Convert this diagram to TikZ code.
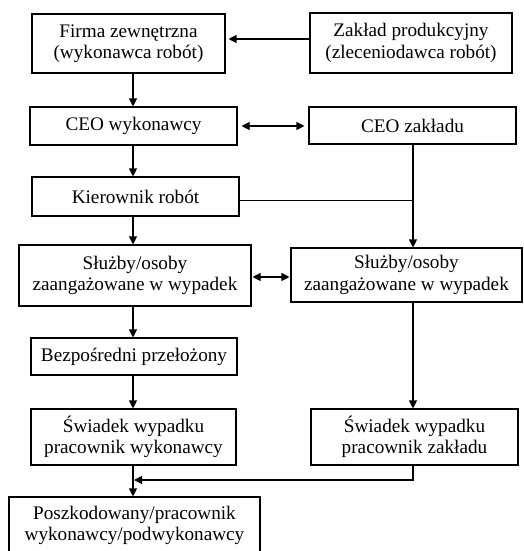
\documentclass[tikz,border=0pt]{standalone}
\usepackage{fontspec}
\setmainfont{Liberation Serif}
\usetikzlibrary{arrows.meta}
\begin{document}
\begin{tikzpicture}[x=1pt,y=-1pt,
  box/.style={draw, line width=1.1pt, inner sep=0pt, align=center,
    font=\fontsize{19.2}{21.5}\selectfont, text=black},
  arr/.style={line width=1.1pt, -{Triangle[length=8pt,width=8pt]}},
  darr/.style={line width=1.1pt, {Triangle[length=8pt,width=8pt]}-{Triangle[length=8pt,width=8pt]}},
  ln/.style={line width=1.2pt}]
\useasboundingbox (0,0) rectangle (523,551);
\clip (0,0) rectangle (523,551);
\coordinate (colL) at (133,0);
\coordinate (colR) at (413,0);
\coordinate (rowA) at (0,39);
\coordinate (rowB) at (0,200.5);
\coordinate (rowC) at (0,480);
\node[box, minimum width=193pt, minimum height=59pt] (firma) at (128.5,43.5) {Firma zewnętrzna\\(wykonawca robót)};
\node[box, minimum width=202pt, minimum height=60pt] (zaklad) at (411,43) {Zakład produkcyjny\\(zleceniodawca robót)};
\node[box, minimum width=207pt, minimum height=38pt] (ceow) at (133.5,126) {CEO wykonawcy};
\node[box, minimum width=207pt, minimum height=37pt] (ceoz) at (412.5,125.5) {CEO zakładu};
\node[box, minimum width=207pt, minimum height=39pt] (kier) at (135.5,196.5) {Kierownik robót};
\node[box, minimum width=232pt, minimum height=61pt] (slL) at (135,275.5) {Służby/osoby\\zaangażowane w wypadek};
\node[box, minimum width=231pt, minimum height=54pt] (slR) at (406.5,275) {Służby/osoby\\zaangażowane w wypadek};
\node[box, minimum width=206pt, minimum height=37pt] (bezp) at (134,356.5) {Bezpośredni przełożony};
\node[box, minimum width=205pt, minimum height=56pt] (swL) at (133.5,437) {Świadek wypadku\\pracownik wykonawcy};
\node[box, minimum width=207pt, minimum height=56pt] (swR) at (414.5,437) {Świadek wypadku\\pracownik zakładu};
\node[box, minimum width=251pt, minimum height=57pt] (posz) at (134.5,525.5) {Poszkodowany/pracownik\\wykonawcy/podwykonawcy};
% connectors
\draw[arr] (zaklad.west |- rowA) -- ([xshift=3pt]firma.east |- rowA);
\draw[arr] (firma.south -| colL) -- (ceow.north -| colL);
\draw[darr, shorten <=4pt, shorten >=4pt] (ceow.east) -- (ceoz.west |- ceow.east);
\draw[arr] (ceow.south -| colL) -- (kier.north -| colL);
\draw[arr] (ceoz.south -| colR) -- (slR.north -| colR);
\draw[ln] (kier.east |- rowB) -- (colR |- rowB);
\draw[arr] (kier.south -| colL) -- (slL.north -| colL);
\draw[darr, shorten <=1pt, shorten >=1pt] ([yshift=-1.5pt]slL.east) -- ([yshift=-1.5pt]slL.east -| slR.west);
\draw[arr] (slL.south -| colL) -- (bezp.north -| colL);
\draw[arr] (bezp.south -| colL) -- (swL.north -| colL);
\draw[arr] (slR.south -| colR) -- (swR.north -| colR);
\draw[arr] (swL.south -| colL) -- (posz.north -| colL);
\coordinate (joinL) at ([xshift=1pt]colL |- rowC);
\draw[arr] (swR.south -| colR) -- (colR |- rowC) -- (joinL);
\end{tikzpicture}
\end{document}
